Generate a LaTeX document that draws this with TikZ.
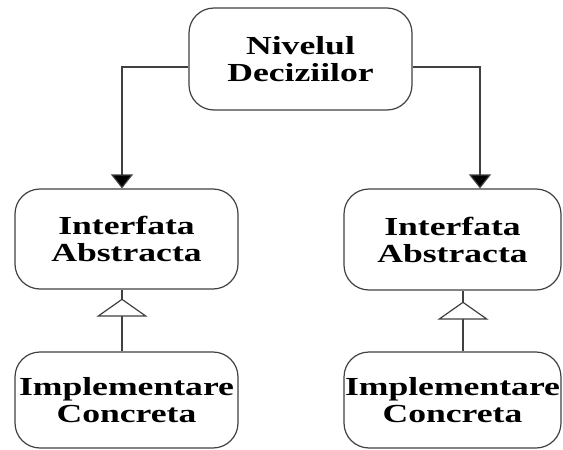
\documentclass[tikz,border=0pt]{standalone}
\usepackage{fontspec}
\setmainfont{Liberation Serif}[FakeStretch=1.37]
\usetikzlibrary{arrows.meta}
\tikzset{
  box/.style={draw=black!75, line width=1.2pt, rounded corners=25pt, align=center,
    font=\fontsize{26}{27}\selectfont\bfseries, inner sep=0pt},
  conn/.style={draw=black!75, line width=1.2pt},
  arr/.style={conn, -{Triangle[width=22pt,length=14pt,fill=black]}},
  inh/.style={conn, -{Triangle[open,width=51pt,length=18pt,fill=white]}}
}
\begin{document}
\begin{tikzpicture}[x=1pt,y=-1pt]
\useasboundingbox (0,0) rectangle (563,450);
\node[box, minimum width=223pt, minimum height=102pt] (top) at (300.5,59) {Nivelul\\Deciziilor};
\node[box, minimum width=223pt, minimum height=100pt] (L) at (126.5,239) {Interfata\\Abstracta};
\node[box, minimum width=217pt, minimum height=101pt] (R) at (452.5,239.5) {Interfata\\Abstracta};
\node[box, minimum width=223pt, minimum height=96pt] (LB) at (126.5,400) {Implementare\\Concreta};
\node[box, minimum width=217pt, minimum height=96pt] (RB) at (452.5,400) {Implementare\\Concreta};
\draw[arr] ([yshift=-8pt]top.west) -| ([xshift=-4.5pt]L.north);
\draw[arr] ([yshift=-8pt]top.east) -| ([xshift=27.5pt]R.north);
\draw[inh] ([xshift=-4.5pt]LB.north) -- ([xshift=-4.5pt,yshift=-9pt]L.south);
\draw[conn] ([xshift=-4.5pt]L.south) -- ++(0,9);
\draw[inh] ([xshift=10.5pt]RB.north) -- ([xshift=10.5pt,yshift=-11pt]R.south);
\draw[conn] ([xshift=10.5pt]R.south) -- ++(0,11);
\end{tikzpicture}
\end{document}
